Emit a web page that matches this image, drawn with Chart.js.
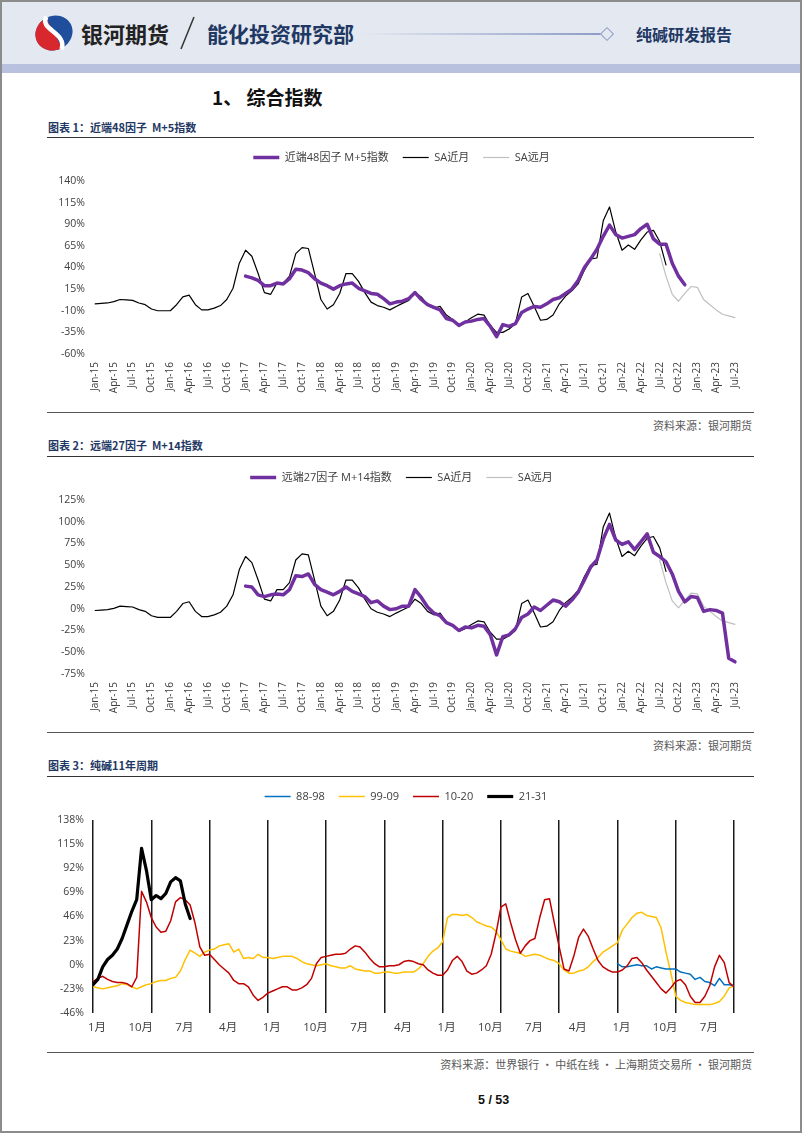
<!DOCTYPE html>
<html><head><meta charset="utf-8">
<script src="https://cdn.jsdelivr.net/npm/chart.js@4.4.0/dist/chart.umd.min.js"></script>
<style>
html,body{margin:0;padding:0;background:#fff;}
#page{position:relative;width:802px;height:1133px;overflow:hidden;font-family:'Noto Sans CJK SC','Open Sans',sans-serif;background:#fff;}
.a{position:absolute;white-space:nowrap;}
#frame{left:0;top:0;width:798px;height:1129px;border:2px solid #8c8c8c;z-index:5;pointer-events:none;}
#hdr{left:0;top:0;width:802px;height:64px;background:#e4e8f0;}
#band{left:0;top:64px;width:802px;height:9px;background:#b8c1de;}
.ctitle{left:48px;font-size:11px;line-height:16px;font-weight:bold;color:#1f3864;}
.hline{left:47px;width:707px;height:0;border-top:1.5px solid #333;}
.src{right:50px;font-size:11px;line-height:14px;color:#595959;}
canvas{position:absolute;left:0;}
</style></head>
<body><div id="page">
<div class="a" id="hdr"></div>
<div class="a" id="band"></div>
<svg class="a" style="left:34px;top:13px" width="40" height="40" viewBox="0 0 40 40">
  <g transform="rotate(-28 20 20)">
    <ellipse cx="20" cy="20" rx="19" ry="17" fill="#1f4e9c"/>
    <path d="M20 3 A19 17 0 0 0 20 37 Z" fill="#d9272e"/>
    <path d="M21 2 C8 10 32 26 19 38" stroke="#fff" stroke-width="4.5" fill="none"/>
  </g>
</svg>
<div class="a" style="left:81px;top:19px;font-size:22px;line-height:28px;font-weight:bold;color:#222;">银河期货</div>
<svg class="a" style="left:176px;top:14px" width="24" height="40"><line x1="18" y1="3" x2="5" y2="35" stroke="#333" stroke-width="1.5"/></svg>
<div class="a" style="left:207px;top:20px;font-size:21px;line-height:27px;font-weight:bold;color:#1f3864;">能化投资研究部</div>
<div class="a" style="left:360px;top:33px;width:242px;height:2px;background:linear-gradient(to right,rgba(150,165,205,0),#8d9cc6);"></div>
<div class="a" style="left:602px;top:29px;width:8px;height:8px;border:1px solid #8d9cc6;transform:rotate(45deg);background:#e4e8f0;"></div>
<div class="a" style="left:636px;top:24px;font-size:16px;line-height:20px;font-weight:bold;color:#1f3864;">纯碱研发报告</div>

<div class="a" style="left:212px;top:85px;font-size:19px;line-height:24px;font-weight:bold;color:#111;">1、 综合指数</div>

<div class="a ctitle" style="top:119px;">图表 1：近端48因子&nbsp; M+5指数</div>
<div class="a hline" style="top:137px;"></div>
<canvas id="c1" width="802" height="261" style="top:138px"></canvas>
<div class="a hline" style="top:412px;border-top-color:#555"></div>
<div class="a src" style="top:418px;">资料来源：银河期货</div>

<div class="a ctitle" style="top:437px;">图表 2：远端27因子&nbsp; M+14指数</div>
<div class="a hline" style="top:456px;"></div>
<canvas id="c2" width="802" height="261" style="top:458px"></canvas>
<div class="a hline" style="top:732px;border-top-color:#555"></div>
<div class="a src" style="top:738px;">资料来源：银河期货</div>

<div class="a ctitle" style="top:757px;">图表 3：纯碱11年周期</div>
<div class="a hline" style="top:776px;"></div>
<canvas id="c3" width="802" height="261" style="top:777px"></canvas>
<div class="a hline" style="top:1052px;border-top-color:#555"></div>
<div class="a src" style="top:1057px;">资料来源：世界银行 · 中纸在线 · 上海期货交易所 · 银河期货</div>

<div class="a" style="left:478px;top:1092px;font-size:12.5px;line-height:16px;font-weight:bold;color:#111;font-family:'Liberation Sans','Noto Sans',sans-serif;">5 / 53</div>
<div class="a" id="frame"></div>
</div>
<script>
// ---------- categories ----------
const MONTH_NAMES = ['Jan','Feb','Mar','Apr','May','Jun','Jul','Aug','Sep','Oct','Nov','Dec'];
const START_YEAR = 15, N_MONTHS = 103; // Jan-15 .. Jul-23
const MONTHS = [];
for (let i = 0; i < N_MONTHS; i++) MONTHS.push(MONTH_NAMES[i % 12] + '-' + (START_YEAR + Math.floor(i / 12)));

// ---------- chart 1 & 2 series ----------
const SA_NEAR_START = 'Jan-15';
const SA_NEAR = [
  -2,-1.5,-1,0.5,3,2.5,2,-1,-3,-8,-10,-10,
  -10,-3,6,8,-3,-9,-9,-7,-4,3,16,45,
  60,53,33,11,9,22,22,30,56,63,62,33,
  3,-8,-3,10,33,33,24,11,0,-4,-6,-9,
  -5,-1.5,2,11,6,-3,-7,-5,-15,-20,-26,-23,
  -18,-14,-15,-27,-35,-35,-31,-25,6,10,-5,-21,
  -20,-15,-2,7,13,21,37,50,51,94,110,81,
  60,66,61,72,81,83,70,43
];
const SA_FAR_START = 'Jul-22';
const SA_FAR = [56,30,9,1,10,18,17,3,-3,-9,-14,-16,-18];

const NEAR48_START = 'Jan-17';
const NEAR48 = [
  30,28,25,19,19,22,21,27,38,37,34,27,
  22,19,15,19,21,22,16,13,10,9,4,-2,
  0,1,4,11,3,-3,-6,-9,-19,-21,-27,-23,
  -22,-20,-19,-28,-40,-26,-28,-25,-12,-8,-5,-6,
  -2,3,5,10,15,25,40,50,61,76,89,78,
  74,76,78,85,90,73,67,67,45,30,20
];
const FAR27_START = 'Jan-17';
const FAR27 = [
  26,25,16,14,16,17,16,22,38,37,40,28,
  22,19,16,20,25,20,17,14,7,9,3,-1,
  0,3,3,22,13,2,-5,-8,-16,-19,-25,-21,
  -22,-19,-20,-30,-53,-32,-30,-23,-10,-6,2,-2,
  4,10,8,3,10,19,33,48,56,80,97,79,
  74,77,68,77,86,65,60,54,40,20,8,14,
  13,-3,-1,-2,-5,-57,-61
];
const Y1_TICKS = [-60,-35,-10,15,40,65,90,115,140];
const Y2_TICKS = [-75,-50,-25,0,25,50,75,100,125];

// ---------- chart 3 series (month index within the 11-year window) ----------
const CYCLE_MONTH_TICKS = ['1月','2月','3月','4月','5月','6月','7月','8月','9月','10月','11月','12月'];
const Y3_TICKS = [-46,-23,0,23,46,69,92,115,138];
const C88_START = 108;
const C88 = [1,-2,-2,-1,0,-1,-1,-4,-2,-3,-4,-4,-4,-7,-8,-9,-14,-12,-16,-17,-20,-13,-19,-19,-20];
const C99_START = 0;
const C99 = [
  -21,-22,-23,-22,-21,-20,-18,-19,-21,-23,-21,-19,
  -18,-16,-15,-15,-13,-12,-6,5,14,11,8,12,
  14,15,18,19,20,12,15,6,7,6,10,7,
  7,6,7,8,8,8,6,3,1,0,-1,0,
  1,-1,-2,-3,-3,-1,-4,-5,-6,-6,-8,-8,
  -7,-7,-8,-8,-7,-7,-7,-4,1,8,13,16,
  22,45,48,48,47,48,45,41,39,37,36,32,
  24,15,13,12,11,8,9,10,9,7,5,4,
  1,-5,-8,-8,-6,-5,-2,3,7,12,15,18,
  21,33,39,45,49,50,47,46,45,35,12,-8,
  -30,-34,-36,-37,-38,-38,-38,-38,-37,-35,-30,-22,
  -20
];
const C10_START = 0;
const C10 = [
  -16,-13,-11,-14,-16,-17,-17,-18,-21,-12,70,60,
  45,36,31,32,42,60,64,62,57,40,17,9,
  10,5,0,-4,-8,-15,-18,-18,-21,-29,-34,-31,
  -27,-25,-23,-21,-21,-24,-24,-22,-19,-13,1,7,
  8,9,10,10,11,15,18,17,12,6,1,-2,
  -2,-1,-1,0,3,4,3,1,0,-5,-8,-10,
  -10,-5,4,8,3,-6,-9,-8,-5,-1,10,30,
  55,58,40,24,11,18,23,25,45,62,63,40,
  17,-4,-6,8,26,34,27,15,4,-2,-5,-7,
  -7,-5,-1,6,7,2,-5,-11,-17,-23,-27,-22,
  -16,-14,-19,-30,-36,-36,-30,-20,-2,9,2,-17,
  -21
];
const C21_START = 0;
const C21 = [-19,-14,-2,5,9,15,25,38,51,62,111,90,62,66,63,68,79,83,80,58,44];

// ---------- helpers ----------
function monthSeries(startLabel, vals) {
  const s = MONTHS.indexOf(startLabel);
  return vals.map((v, i) => ({x: MONTHS[s + i], y: v}));
}
function cycleSeries(start, vals) {
  return vals.map((v, i) => ({x: start + i, y: v}));
}
// extra space below the legend, and a horizontal nudge of the legend row
const legendGap = {
  id: 'legendGap',
  beforeInit(chart, args, opts) {
    const lg = chart.legend;
    if (!lg) return;
    const fit = lg.fit;
    lg.fit = function () { fit.call(this); this.height += (opts.extra || 0); };
    const draw = lg.draw;
    lg.draw = function () {
      const ctx = this.ctx;
      ctx.save(); ctx.translate(opts.dx || 0, 0);
      draw.apply(this, arguments);
      ctx.restore();
    };
  }
};
Chart.defaults.font.family = "'Open Sans','Noto Sans CJK SC',sans-serif";
Chart.defaults.color = '#404040';

function legendOpts() {
  return {
    position: 'top',
    labels: {usePointStyle: true, pointStyle: 'line', pointStyleWidth: 26, padding: 14, color: '#404040',
             font: {size: 11}, sort: (a, b) => a.datasetIndex - b.datasetIndex}
  };
}
function yScale(ticks, width, pad) {
  return {
    min: ticks[0], max: ticks[ticks.length - 1],
    grid: {display: false, drawTicks: false}, border: {display: false},
    afterBuildTicks: s => { s.ticks = ticks.map(v => ({value: v})); },
    afterFit: s => { s.width = width; },
    ticks: {padding: pad, color: '#404040', font: {size: 10.5}, callback: v => v + '%', autoSkip: false}
  };
}
function monthX() {
  return {
    type: 'category', offset: false,
    grid: {display: false, drawTicks: false}, border: {display: false},
    afterFit: s => { s.height = 45; },
    ticks: {autoSkip: false, minRotation: 90, maxRotation: 90, padding: 8, color: '#404040', font: {size: 10},
            callback: function (v, i) { return i % 3 === 0 ? this.getLabelForValue(v) : ''; }}
  };
}
const common = {
  animation: false, responsive: false, devicePixelRatio: 1, events: [],
  elements: {point: {radius: 0, hoverRadius: 0}, line: {tension: 0, borderJoinStyle: 'round', borderCapStyle: 'round'}}
};

new Chart(document.getElementById('c1'), {
  type: 'line',
  data: {datasets: [
    {label: '近端48因子 M+5指数', data: monthSeries(NEAR48_START, NEAR48), borderColor: '#7030a0', backgroundColor: '#7030a0', borderWidth: 3.5},
    {label: 'SA近月', data: monthSeries(SA_NEAR_START, SA_NEAR), borderColor: '#000000', backgroundColor: '#000000', borderWidth: 1.2},
    {label: 'SA远月', data: monthSeries(SA_FAR_START, SA_FAR), borderColor: '#bfbfbf', backgroundColor: '#bfbfbf', borderWidth: 1.2}
  ], labels: MONTHS},
  options: Object.assign({}, common, {
    layout: {padding: {left: 40, right: 67, top: 0, bottom: 0}},
    plugins: {legend: legendOpts(), legendGap: {extra: 8, dx: 14}, tooltip: {enabled: false}},
    scales: {x: monthX(), y: yScale(Y1_TICKS, 55, 10)}
  }),
  plugins: [legendGap]
});

new Chart(document.getElementById('c2'), {
  type: 'line',
  data: {datasets: [
    {label: '远端27因子 M+14指数', data: monthSeries(FAR27_START, FAR27), borderColor: '#7030a0', backgroundColor: '#7030a0', borderWidth: 3.5},
    {label: 'SA近月', data: monthSeries(SA_NEAR_START, SA_NEAR), borderColor: '#000000', backgroundColor: '#000000', borderWidth: 1.2},
    {label: 'SA远月', data: monthSeries(SA_FAR_START, SA_FAR), borderColor: '#bfbfbf', backgroundColor: '#bfbfbf', borderWidth: 1.2}
  ], labels: MONTHS},
  options: Object.assign({}, common, {
    layout: {padding: {left: 40, right: 67, top: 0, bottom: 0}},
    plugins: {legend: legendOpts(), legendGap: {extra: 7, dx: 14}, tooltip: {enabled: false}},
    scales: {x: monthX(), y: yScale(Y2_TICKS, 55, 10)}
  }),
  plugins: [legendGap]
});

new Chart(document.getElementById('c3'), {
  type: 'line',
  data: {datasets: [
    {label: '88-98', data: cycleSeries(C88_START, C88), borderColor: '#0070c0', backgroundColor: '#0070c0', borderWidth: 1.5, order: 2},
    {label: '99-09', data: cycleSeries(C99_START, C99), borderColor: '#ffc000', backgroundColor: '#ffc000', borderWidth: 1.5, order: 3},
    {label: '10-20', data: cycleSeries(C10_START, C10), borderColor: '#c00000', backgroundColor: '#c00000', borderWidth: 1.5, order: 1},
    {label: '21-31', data: cycleSeries(C21_START, C21), borderColor: '#000000', backgroundColor: '#000000', borderWidth: 3.2, order: 0}
  ]},
  options: Object.assign({}, common, {
    layout: {padding: {left: 40, right: 68, top: 0, bottom: 0}},
    plugins: {legend: legendOpts(), legendGap: {extra: 8, dx: 19}, tooltip: {enabled: false}},
    scales: {
      x: {
        type: 'linear', min: 0, max: 132,
        border: {display: false},
        afterFit: s => { s.height = 25; },
        grid: {drawTicks: false, lineWidth: 1.5,
               color: c => (c.tick && c.tick.value % 12 === 0) ? '#1a1a1a' : 'rgba(0,0,0,0)'},
        ticks: {stepSize: 3, autoSkip: false, maxRotation: 0, minRotation: 0, padding: 8, labelOffset: 4,
                color: '#404040', font: {size: 11.5},
                callback: v => (v % 9 === 0) ? CYCLE_MONTH_TICKS[v % 12] : ''}
      },
      y: yScale(Y3_TICKS, 53, 9)
    }
  }),
  plugins: [legendGap]
});
</script>
</body></html>
